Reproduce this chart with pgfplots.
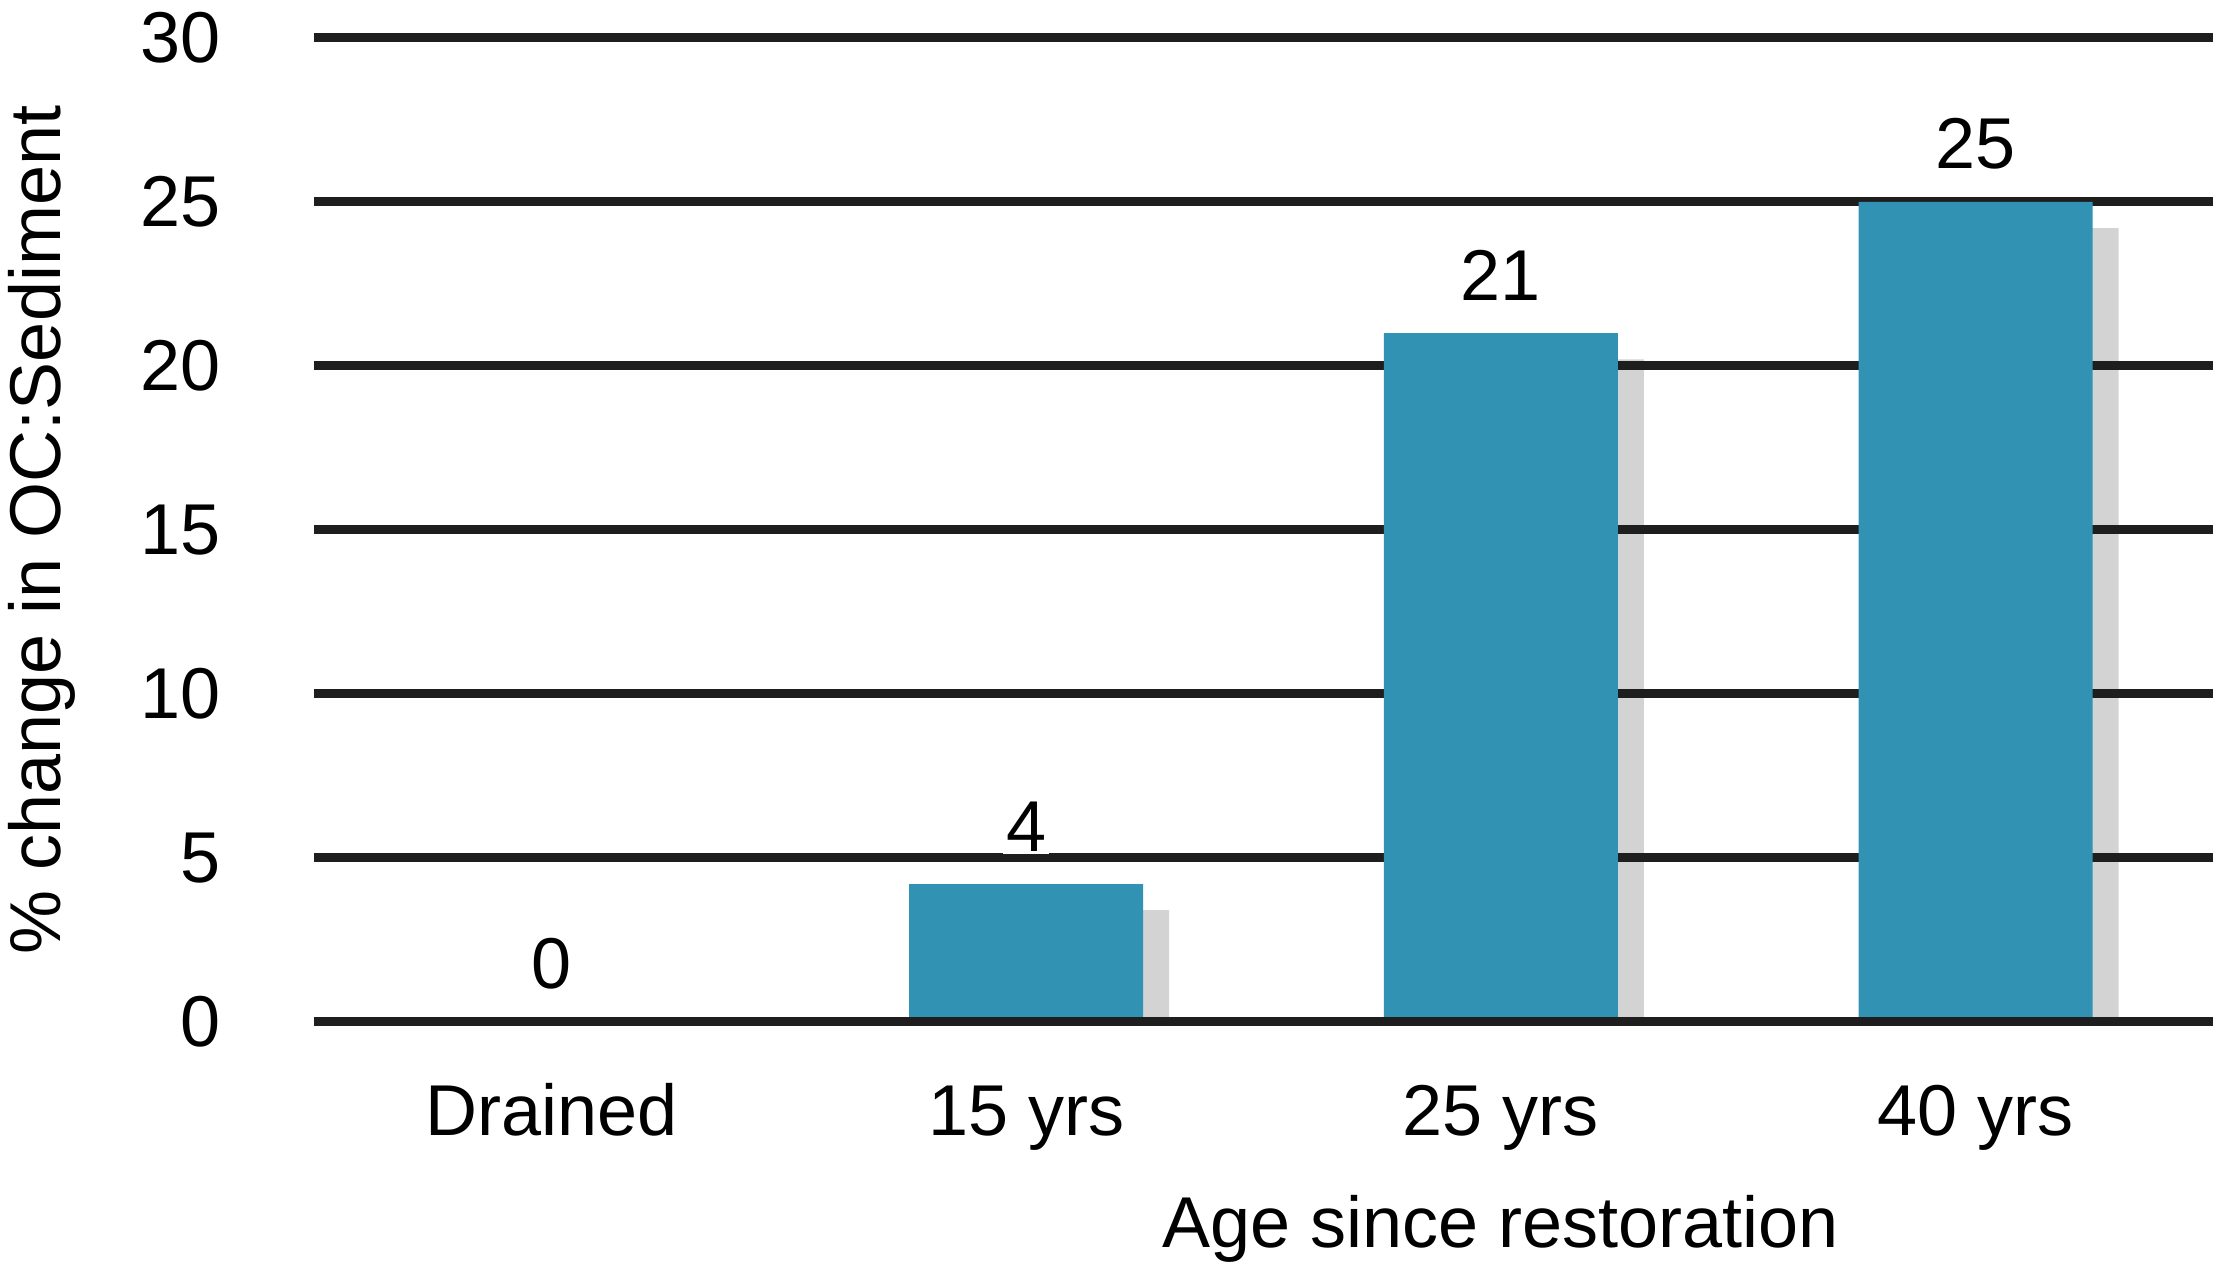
\documentclass[border=0pt]{standalone}
\usepackage{fontspec}
\setmainfont{Liberation Sans}
\usepackage{pgfplots}
\pgfplotsset{compat=1.18}
\definecolor{barblue}{RGB}{50,146,180}
\definecolor{shadowgray}{RGB}{211,211,211}
\definecolor{gridblack}{RGB}{30,30,30}
\begin{document}
\begin{tikzpicture}
\begin{axis}[
  name=ax, at={(0,0)}, anchor=south west,
  set layers,
  scale only axis, width=316.5pt, height=164pt,
  xmin=-0.5, xmax=3.5, ymin=0, ymax=30,
  axis line style={draw=none},
  major tick length=0pt,
  xtick={0,1,2,3}, xticklabels={Drained,15 yrs,25 yrs,40 yrs},
  ytick={0,5,10,15,20,25,30},
  ymajorgrids, major grid style={gridblack, line width=1.5pt},
  /pgf/number format/assume math mode=true,
  tick label style={font=\fontsize{12}{14.4}\selectfont},
  label style={font=\fontsize{12}{14.4}\selectfont},
  yticklabel style={anchor=east, inner sep=0pt, xshift=-15.33pt},
  xticklabel style={anchor=base, inner sep=0pt, yshift=-19pt},
  xlabel={Age since restoration},
  xlabel style={at={(axis description cs:0.625,-0.2287)}, anchor=base, inner sep=0pt},
  ylabel={\% change in OC:Sediment},
  ylabel style={at={(axis description cs:-0.1337,0.5)}, anchor=base, inner sep=0pt},
  ybar, bar width=39pt,
]
\addplot[fill=shadowgray, draw=none, bar shift=4.33pt, on layer=axis background]
  coordinates {(1,3.41) (2,20.2) (3,24.2)};
\addplot[fill=barblue, draw=none, bar shift=0pt,
  nodes near coords={\pgfmathprintnumber[fixed,precision=0]{\pgfplotspointmeta}},
  every node near coord/.append style={anchor=south, yshift=4.8pt, inner sep=0.5pt,
     fill=white, text=black, font=\fontsize{12}{14.4}\selectfont}]
  coordinates {(0,0) (1,4.2) (2,21) (3,25)};
\draw[gridblack, line width=1.5pt] (axis cs:-0.5,0) -- (axis cs:3.5,0);
\end{axis}
\pgfresetboundingbox
\path[use as bounding box] ([shift={(-52.33pt,-41pt)}]ax.south west) rectangle ([shift={(0.67pt,6.33pt)}]ax.north east);
\end{tikzpicture}
\end{document}
